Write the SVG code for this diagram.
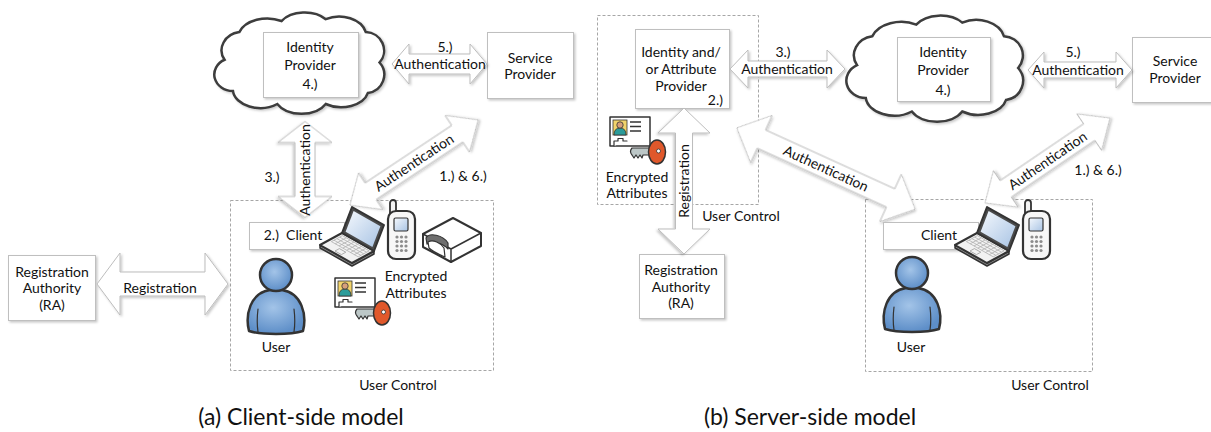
<svg xmlns="http://www.w3.org/2000/svg" width="1211" height="432" viewBox="0 0 1211 432">
  <style>
    text { font-family: Lato, "Open Sans", sans-serif; font-size: 14px; fill: #111; text-anchor: middle; }
    .title { font-size: 23px; }
    .box { fill: #fff; stroke: #bfbfbf; stroke-width: 1; filter: url(#sh); }
    .zone { fill: none; stroke: #a6a6a6; stroke-width: 1; stroke-dasharray: 3 2; }
    .arrow { fill: #fff; stroke: #bdbdbd; stroke-width: 1; filter: url(#sh); }
    .cloud { fill: #fff; stroke: #3c3c3c; stroke-width: 2.5; filter: url(#sh); }
    .ink { stroke: #333; stroke-linejoin: round; stroke-linecap: round; }
  </style>
  <defs>
    <filter id="sh" x="-10%" y="-10%" width="130%" height="130%">
      <feDropShadow dx="1.5" dy="1.5" stdDeviation="1" flood-color="#000" flood-opacity="0.22"/>
    </filter>
    <radialGradient id="blue" cx="0.45" cy="0.4" r="0.6">
      <stop offset="0" stop-color="#a3c4e8"/>
      <stop offset="1" stop-color="#5d8ec8"/>
    </radialGradient>
    <linearGradient id="display" x1="0" y1="0" x2="1" y2="1">
      <stop offset="0" stop-color="#f4f8fd"/>
      <stop offset="1" stop-color="#a9c4e4"/>
    </linearGradient>
    <path id="cloudShape" vector-effect="non-scaling-stroke" d="M16,52 A20,20 0 0 1 30,22 A28,22 0 0 1 70,10 A26,20 0 0 1 112,8 A26,22 0 0 1 150,22 A18,20 0 0 1 163,55 A18,20 0 0 1 152,88 A26,20 0 0 1 112,100 A26,20 0 0 1 66,100 A26,20 0 0 1 24,86 A18,18 0 0 1 16,52 Z"/>

    <!-- person figure, origin at head centre -->
    <g id="person">
      <path class="ink" fill="url(#blue)" stroke-width="2.5" d="M-27,56 C-31,40 -26,18 -6,15 L6,15 C26,18 31,40 27,56 C15,60 -15,60 -27,56 Z"/>
      <path class="ink" fill="none" stroke-width="1.2" d="M-18,34 C-19,42 -19,50 -18,57 M18,34 C19,42 19,50 18,57"/>
      <circle class="ink" cx="0" cy="0" r="16" fill="url(#blue)" stroke-width="2.5"/>
    </g>

    <!-- laptop, origin at top-left of its bounds -->
    <g id="laptop">
      <path class="ink" fill="#8a8a8a" stroke-width="1.5" d="M0,38 L32,56 L54,44 L54,47 L32,59 L0,41 Z"/>
      <path class="ink" fill="#f2f2f2" stroke-width="2" d="M22,26 L54,44 L32,56 L0,38 Z"/>
      <g stroke="#b0b0b0" stroke-width="0.8">
        <line x1="22.4" y1="28.6" x2="49.2" y2="43.8"/>
        <line x1="19.7" y1="30.1" x2="46.6" y2="45.2"/>
        <line x1="16.9" y1="31.6" x2="43.7" y2="46.8"/>
        <line x1="14" y1="33.2" x2="40.9" y2="48.3"/>
        <line x1="11.4" y1="34.6" x2="38.2" y2="49.8"/>
        <line x1="22.4" y1="28.6" x2="11.4" y2="34.6"/>
        <line x1="26.2" y1="30.8" x2="15.2" y2="36.8"/>
        <line x1="30" y1="33" x2="19" y2="39"/>
        <line x1="33.9" y1="35.1" x2="22.9" y2="41.1"/>
        <line x1="37.7" y1="37.3" x2="26.7" y2="43.3"/>
        <line x1="41.6" y1="39.4" x2="30.6" y2="45.4"/>
        <line x1="45.4" y1="41.6" x2="34.4" y2="47.6"/>
        <line x1="49.2" y1="43.8" x2="38.2" y2="49.8"/>
      </g>
      <path fill="none" stroke="#9a9a9a" stroke-width="0.8" d="M19.4,41.6 L25.8,45.2 L21.4,47.6 L15,44 Z"/>
      <path class="ink" fill="#4a4a4a" stroke-width="2" d="M32,0 L64,18 L54,44 L22,26 Z"/>
      <path fill="url(#display)" d="M33.6,4 L60.4,19.2 L52.4,40 L25.6,24.8 Z"/>
    </g>

    <!-- mobile phone, origin at top-left of its bounds -->
    <g id="phone">
      <rect class="ink" x="3" y="0" width="6" height="16" rx="3" fill="#f4f4f4" stroke-width="1.8"/>
      <rect class="ink" x="1" y="11" width="27" height="48" rx="8" fill="#f7f7f7" stroke-width="2.2"/>
      <rect class="ink" x="7" y="18" width="14" height="13" rx="1.5" fill="url(#display)" stroke-width="1.2"/>
      <g fill="#8c8c8c">
        <circle cx="10" cy="37" r="1.6"/><circle cx="14.5" cy="37" r="1.6"/><circle cx="19" cy="37" r="1.6"/>
        <circle cx="10" cy="41.5" r="1.6"/><circle cx="14.5" cy="41.5" r="1.6"/><circle cx="19" cy="41.5" r="1.6"/>
        <circle cx="10" cy="46" r="1.6"/><circle cx="14.5" cy="46" r="1.6"/><circle cx="19" cy="46" r="1.6"/>
        <circle cx="10" cy="50.5" r="1.6"/><circle cx="14.5" cy="50.5" r="1.6"/><circle cx="19" cy="50.5" r="1.6"/>
      </g>
    </g>

    <!-- ID card with key, origin at card top-left -->
    <g id="credential">
      <rect class="ink" x="0" y="0" width="40" height="29" fill="#fff" stroke-width="1.5"/>
      <rect x="3" y="3" width="14" height="15" fill="#f2d46b" stroke="#333" stroke-width="0.8"/>
      <path fill="#2b9c9a" stroke="#333" stroke-width="0.8" d="M4,18 Q4,11 10,11 Q16,11 16,18 Z"/>
      <circle cx="10" cy="8" r="3.2" fill="#d7a07a" stroke="#333" stroke-width="0.8"/>
      <path stroke="#333" stroke-width="1.5" d="M20,5 H31 M20,9.5 H31 M20,14 H31"/>
      <path class="ink" fill="#fff" stroke-width="1.2" d="M4,29 V24 H8 V21.5 H13 V24 H17"/>
      <path class="ink" fill="#bcc7c7" stroke-width="1.2" d="M22,31 H41 V38 H33 L32,41 L30,38 L28,41 L26,38 L24,41 L22,38 Q19,34.5 22,31 Z"/>
      <ellipse class="ink" cx="47" cy="35" rx="8.5" ry="12" fill="#e0582b" stroke-width="1.5"/>
      <circle cx="48.5" cy="34" r="2" fill="#fff" stroke="#333" stroke-width="0.8"/>
    </g>

    <!-- removable drive -->
    <g id="drive">
      <path class="ink" fill="#fff" stroke-width="2" d="M0,16 L30,0 L58,15 L58,28 L28,44 L0,29 Z"/>
      <path class="ink" fill="none" stroke-width="1.5" d="M0,16 L28,31 L58,15 M28,31 V44"/>
      <path class="ink" fill="#6e6e6e" stroke-width="1.2" d="M3,20 C6,14 20,17 25,25 L25,31 C20,25 8,22 4,26 Z"/>
      <path class="ink" fill="#fff" stroke-width="1.2" d="M5,24 C10,21 18,25 21,30 L22,39 C15,36 9,33 6,30 Z"/>
    </g>
  </defs>

  <!-- ===== (a) client-side ===== -->
  <g id="a-user-control">
    <rect class="zone" x="230.5" y="200.5" width="263" height="170"/>
    <text x="398" y="390">User Control</text>
  </g>

  <g id="a-identity-provider">
    <use href="#cloudShape" class="cloud" transform="translate(207.7,11.8) scale(1.054,0.922)"/>
    <rect class="box" x="263.5" y="32.5" width="95" height="65"/>
    <text x="310" y="52">Identity</text>
    <text x="310" y="70">Provider</text>
    <text x="310" y="89">4.)</text>
  </g>

  <g id="a-service-provider">
    <rect class="box" x="487.5" y="32.5" width="86" height="66"/>
    <text x="530" y="63">Service</text>
    <text x="530" y="79">Provider</text>
  </g>

  <g id="a-registration-authority">
    <rect class="box" x="8.5" y="255.5" width="87" height="65"/>
    <text x="52" y="277">Registration</text>
    <text x="52" y="293">Authority</text>
    <text x="52" y="310">(RA)</text>
  </g>

  <g id="a-connectors">
    <path class="arrow" transform="translate(439.5,64)" d="M-47.5,0 L-30.5,-20 L-30.5,-10 L30.5,-10 L30.5,-20 L47.5,0 L30.5,20 L30.5,10 L-30.5,10 L-30.5,20 Z"/>
    <text x="445" y="52">5.)</text>
    <text x="440" y="69">Authentication</text>

    <path class="arrow" transform="translate(162.5,284)" d="M-65.5,0 L-42.5,-31 L-42.5,-12 L42.5,-12 L42.5,-31 L65.5,0 L42.5,31 L42.5,12 L-42.5,12 L-42.5,31 Z"/>
    <text x="160" y="293">Registration</text>

    <path class="arrow" transform="translate(305,169.5) rotate(90)" d="M-48,0 L-27,-27 L-27,-10 L27,-10 L27,-27 L48,0 L27,27 L27,10 L-27,10 L-27,27 Z"/>
    <text transform="translate(305,170) rotate(-90)" y="5">Authentication</text>
    <text x="272" y="182">3.)</text>

    <path class="arrow" transform="translate(414,162.5) rotate(-33.6)" d="M-77,0 L-52,-22 L-52,-10 L52,-10 L52,-22 L77,0 L52,22 L52,10 L-52,10 L-52,22 Z"/>
    <text transform="translate(414,162.5) rotate(-33.6)" y="5">Authentication</text>
    <text x="463" y="181">1.) &amp; 6.)</text>
  </g>

  <g id="a-client">
    <rect class="box" x="249.5" y="222.5" width="95" height="27"/>
    <text x="293" y="240" xml:space="preserve">2.)  Client</text>
    <use href="#laptop" x="320" y="207"/>
    <use href="#phone" x="387" y="200"/>
    <use href="#drive" x="423" y="218"/>
  </g>

  <g id="a-encrypted-attributes">
    <use href="#credential" x="335" y="278"/>
    <text x="416" y="281">Encrypted</text>
    <text x="416" y="298">Attributes</text>
  </g>

  <g id="a-user">
    <use href="#person" x="276" y="275"/>
    <text x="276" y="352">User</text>
  </g>

  <text class="title" x="301" y="425">(a) Client-side model</text>

  <!-- ===== (b) server-side ===== -->
  <g id="b-user-control-provider">
    <rect class="zone" x="597.5" y="15.5" width="161" height="189"/>
    <text x="741" y="221">User Control</text>
  </g>

  <g id="b-user-control-client">
    <rect class="zone" x="865.5" y="199.5" width="227" height="172"/>
    <text x="1050" y="390">User Control</text>
  </g>

  <g id="b-attribute-provider">
    <rect class="box" x="635.5" y="29.5" width="94" height="79"/>
    <text x="681" y="57">Identity and/</text>
    <text x="681" y="74">or Attribute</text>
    <text x="681" y="91">Provider</text>
    <text x="723" y="105" style="text-anchor:end">2.)</text>
  </g>

  <g id="b-encrypted-attributes">
    <use href="#credential" x="610" y="117"/>
    <text x="637" y="182">Encrypted</text>
    <text x="637" y="198">Attributes</text>
  </g>

  <g id="b-identity-provider">
    <use href="#cloudShape" class="cloud" transform="translate(839.5,14.9) scale(1.096,0.966)"/>
    <rect class="box" x="897.5" y="37.5" width="93" height="64"/>
    <text x="943" y="57">Identity</text>
    <text x="943" y="75">Provider</text>
    <text x="943" y="95">4.)</text>
  </g>

  <g id="b-service-provider">
    <rect class="box" x="1132.5" y="37.5" width="86" height="65"/>
    <text x="1175" y="66">Service</text>
    <text x="1175" y="83">Provider</text>
  </g>

  <g id="b-registration-authority">
    <rect class="box" x="639.5" y="254.5" width="85" height="64"/>
    <text x="681" y="275">Registration</text>
    <text x="681" y="292">Authority</text>
    <text x="681" y="308">(RA)</text>
  </g>

  <g id="b-connectors">
    <path class="arrow" transform="translate(787.5,69)" d="M-57.5,0 L-39.5,-19 L-39.5,-8 L39.5,-8 L39.5,-19 L57.5,0 L39.5,19 L39.5,8 L-39.5,8 L-39.5,19 Z"/>
    <text x="783" y="57">3.)</text>
    <text x="787" y="74">Authentication</text>

    <path class="arrow" transform="translate(1080,70)" d="M-52,0 L-36,-18 L-36,-8 L36,-8 L36,-18 L52,0 L36,18 L36,8 L-36,8 L-36,18 Z"/>
    <text x="1073" y="57">5.)</text>
    <text x="1078" y="75">Authentication</text>

    <path class="arrow" transform="translate(684,181) rotate(90)" d="M-73,0 L-48,-26 L-48,-8.5 L48,-8.5 L48,-26 L73,0 L48,26 L48,8.5 L-48,8.5 L-48,26 Z"/>
    <text transform="translate(684,181) rotate(-90)" y="5">Registration</text>

    <path class="arrow" transform="translate(826,168.5) rotate(24.5)" d="M-98,0 L-71,-26 L-71,-10 L71,-10 L71,-26 L98,0 L71,26 L71,10 L-71,10 L-71,26 Z"/>
    <text transform="translate(826,168.5) rotate(24.5)" y="5">Authentication</text>

    <path class="arrow" transform="translate(1047.5,160.5) rotate(-34.2)" d="M-75.5,0 L-50.5,-22 L-50.5,-10 L50.5,-10 L50.5,-22 L75.5,0 L50.5,22 L50.5,10 L-50.5,10 L-50.5,22 Z"/>
    <text transform="translate(1047.5,160.5) rotate(-34.2)" y="5">Authentication</text>
    <text x="1098" y="175">1.) &amp; 6.)</text>
  </g>

  <g id="b-client">
    <rect class="box" x="883.5" y="222.5" width="95" height="27"/>
    <text x="939" y="240">Client</text>
    <use href="#laptop" x="955" y="207"/>
    <use href="#phone" x="1022" y="200"/>
  </g>

  <g id="b-user">
    <use href="#person" x="912" y="273"/>
    <text x="911" y="352">User</text>
  </g>

  <text class="title" x="810" y="425">(b) Server-side model</text>
</svg>
